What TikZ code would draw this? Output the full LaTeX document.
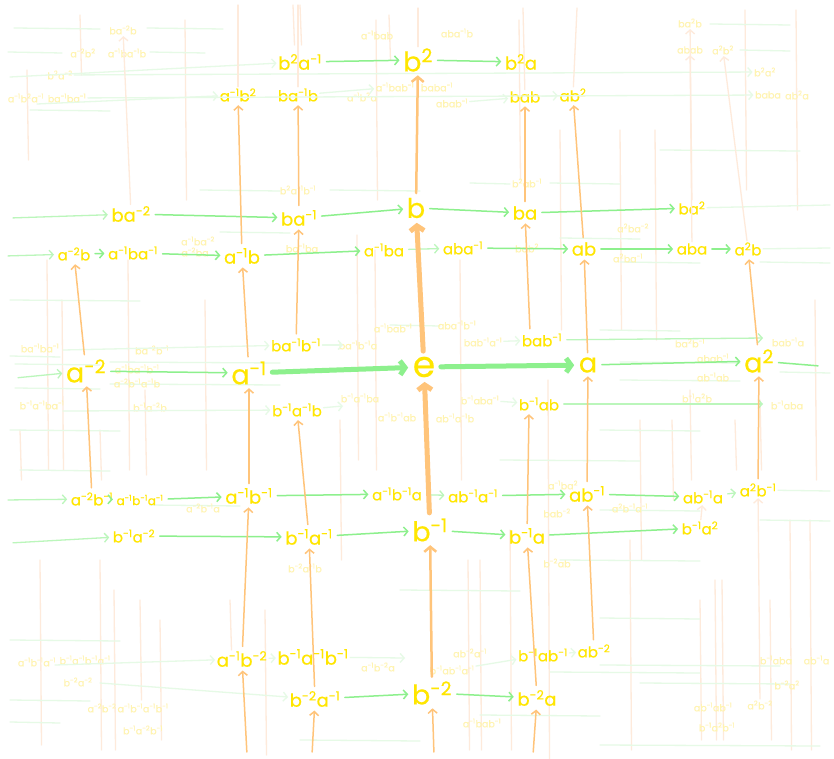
\documentclass[tikz,border=0pt]{standalone}
\usepackage{fontspec}
\setmainfont{Poppins}[FakeBold=0.5]
\usetikzlibrary{arrows.meta}
\definecolor{ylw}{HTML}{FFE600}
\definecolor{ylwf}{HTML}{FFF4B0}
\definecolor{grn}{HTML}{8DF08D}
\definecolor{grnf}{HTML}{E6FAE6}
\definecolor{org}{HTML}{FFC47A}
\definecolor{orgf}{HTML}{FEEADB}
\newcommand\ex[1]{\textsuperscript{#1}}
\begin{document}
\begin{tikzpicture}[x=1pt,y=-1pt,
  every node/.style={inner sep=1.5pt},
  huge/.style={text=ylw, font=\fontsize{36}{36}\selectfont},
  big/.style={text=ylw, font=\fontsize{27}{27}\selectfont},
  mid/.style={text=ylw, font=\fontsize{18}{18}\selectfont},
  sml/.style={text=ylw, font=\fontsize{15}{15}\selectfont},
  tiny/.style={text=ylw, font=\fontsize{12}{12}\selectfont},
  fnt/.style={text=ylwf, font=\fontsize{9.5}{9.5}\selectfont},
  tipA/.style={-{Straight Barb[length=4pt,width=9pt]}},
  gA/.style={draw=grn, line width=1.5pt, line cap=round, tipA, shorten >=2pt, shorten <=3pt},
  gL/.style={draw=grn!60, line width=1.3pt, line cap=round, tipA, shorten >=2pt, shorten <=3pt},
  gT/.style={draw=grn, line width=5pt, line cap=round, -{Straight Barb[length=5pt,width=14pt]}, shorten >=3pt, shorten <=4pt},
  oA/.style={draw=org, line width=1.5pt, line cap=round, tipA, shorten >=2pt, shorten <=3pt},
  oM/.style={draw=org, line width=2.5pt, line cap=round, -{Straight Barb[length=5pt,width=12pt]}, shorten >=2pt, shorten <=3pt},
  oT/.style={draw=org, line width=5pt, line cap=round, -{Straight Barb[length=5pt,width=14pt]}, shorten >=3pt, shorten <=4pt},
  gF/.style={draw=grnf, line width=1.3pt, line cap=round},
  oF/.style={draw=orgf, line width=1.3pt, line cap=round},
  gFA/.style={gF, tipA},
  oFA/.style={oF, tipA},
]
\fill[white] (0,0) rectangle (834,759);
\useasboundingbox (0,0) rectangle (834,759);

% ---------- faint background lines ----------
\foreach \x/\ya/\yb in {27/70/160, 80/15/75, 47/260/470, 62/300/470, 128/260/470, 145/390/475,
  300/5/45, 293/5/45, 357/235/460, 375/250/470, 389/15/60, 376/20/200, 460/260/480, 468/560/750,
  519/20/180, 548/380/760, 620/130/330, 655/130/340, 700/600/740, 715/580/740, 722/580/740,
  745/10/190, 770/600/740, 790/520/750, 810/520/750, 796/10/210, 40/560/745, 100/560/750,
  114/590/750, 140/600/700, 160/620/740, 265/610/755, 480/560/750, 510/530/750, 630/540/750,
  185/20/200, 205/300/470, 760/400/470, 690/390/480, 100/430/480, 20/430/480, 340/420/560,
  560/130/330, 640/420/560, 672/420/500, 735/420/470, 815/300/480, 230/600/650}
  \draw[oF] (\x,\ya) -- (\x+1.5,\yb);
\foreach \y/\xa/\xb in {28/14/100, 28/147/223, 52/8/62, 52/150/205, 24/710/790, 50/740/790,
  110/30/110, 150/660/800, 190/200/280, 190/330/420, 183/470/510, 183/550/620, 232/220/290,
  238/560/640, 262/620/700, 262/760/830, 300/10/140, 325/390/440, 330/600/680, 356/10/60,
  364/15/100, 388/15/100, 362/110/280, 384/110/280, 362/620/740, 380/620/740, 372/780/830,
  430/600/700, 430/10/120, 460/500/640, 470/20/110, 505/150/240, 510/600/700, 520/760/830,
  560/560/700, 590/400/520, 618/600/700, 640/10/120, 672/550/700, 700/10/90, 715/480/600,
  722/10/60, 740/300/420, 745/600/820, 683/640/790, 665/600/780}
  \draw[gF] (\xa,\y) -- (\xb,\y+1);

% ---------- faint labels ----------
\node[fnt] (f1) at (123,30) {ba\ex{-2}b};
\node[fnt] (f2) at (83,53) {a\ex{-2}b\ex{2}};
\node[fnt] (f3) at (127,53) {a\ex{-1}ba\ex{-1}b};
\node[fnt] (f4) at (60,75) {b\ex{2}a\ex{-2}};
\node[fnt] (f5) at (26,98) {a\ex{-1}b\ex{2}a\ex{-1}};
\node[fnt] (f6) at (67,98) {ba\ex{-1}ba\ex{-1}};
\node[fnt] (f7) at (377,35) {a\ex{-1}bab};
\node[fnt] (f8) at (457,33) {aba\ex{-1}b};
\node[fnt] (f9) at (362,97) {a\ex{-1}b\ex{2}a};
\node[fnt] (f10) at (395,87) {a\ex{-1}bab\ex{-1}};
\node[fnt] (f11) at (437,87) {baba\ex{-1}};
\node[fnt] (f12) at (452,103) {abab\ex{-1}};
\node[fnt] (f13) at (690,23) {ba\ex{2}b};
\node[fnt] (f14) at (690,50) {abab};
\node[fnt] (f15) at (723,50) {a\ex{2}b\ex{2}};
\node[fnt] (f16) at (765,72) {b\ex{2}a\ex{2}};
\node[fnt] (f17) at (768,95) {baba};
\node[fnt] (f18) at (797,95) {ab\ex{2}a};
\node[fnt] (f19) at (298,190) {b\ex{2}a\ex{-1}b\ex{-1}};
\node[fnt] (f20) at (527,183) {b\ex{2}ab\ex{-1}};
\node[fnt] (f21) at (198,241) {a\ex{-1}ba\ex{-2}};
\node[fnt] (f22) at (195,252) {a\ex{-2}ba};
\node[fnt] (f23) at (302,248) {ba\ex{-1}ba};
\node[fnt] (f24) at (527,248) {bab\ex{2}};
\node[fnt] (f25) at (633,228) {a\ex{2}ba\ex{-2}};
\node[fnt] (f26) at (628,258) {a\ex{2}ba\ex{-1}};
\node[fnt] (f27) at (40,348) {ba\ex{-1}ba\ex{-1}};
\node[fnt] (f28) at (152,350) {ba\ex{-2}b\ex{-1}};
\node[fnt] (f29) at (137,369) {a\ex{-1}ba\ex{-1}b\ex{-1}};
\node[fnt] (f30) at (137,383) {a\ex{-2}b\ex{-1}a\ex{-1}b};
\node[fnt] (f31) at (358,345) {ba\ex{-1}b\ex{-1}a};
\node[fnt] (f32) at (393,328) {a\ex{-1}bab\ex{-1}};
\node[fnt] (f33) at (42,405) {b\ex{-1}a\ex{-1}ba\ex{-1}};
\node[fnt] (f34) at (150,407) {b\ex{-1}a\ex{-2}b};
\node[fnt] (f35) at (360,398) {b\ex{-1}a\ex{-1}ba};
\node[fnt] (f36) at (397,417) {a\ex{-1}b\ex{-1}ab};
\node[fnt] (f37) at (457,325) {aba\ex{-1}b\ex{-1}};
\node[fnt] (f38) at (483,342) {bab\ex{-1}a\ex{-1}};
\node[fnt] (f39) at (690,343) {ba\ex{2}b\ex{-1}};
\node[fnt] (f40) at (713,358) {abab\ex{-1}};
\node[fnt] (f41) at (713,377) {ab\ex{-1}ab};
\node[fnt] (f42) at (788,342) {bab\ex{-1}a};
\node[fnt] (f43) at (480,400) {b\ex{-1}aba\ex{-1}};
\node[fnt] (f44) at (455,418) {ab\ex{-1}a\ex{-1}b};
\node[fnt] (f45) at (697,398) {b\ex{-1}a\ex{2}b};
\node[fnt] (f46) at (787,405) {b\ex{-1}aba};
\node[fnt] (f47) at (203,508) {a\ex{-2}b\ex{-1}a};
\node[fnt] (f48) at (563,485) {a\ex{-1}ba\ex{2}};
\node[fnt] (f49) at (557,513) {bab\ex{-2}};
\node[fnt] (f50) at (630,508) {a\ex{2}b\ex{-1}a\ex{-1}};
\node[fnt] (f51) at (557,563) {b\ex{-2}ab};
\node[fnt] (f52) at (305,568) {b\ex{-2}a\ex{-1}b};
\node[fnt] (f53) at (37,662) {a\ex{-1}b\ex{-1}a\ex{-1}};
\node[fnt] (f54) at (85,660) {b\ex{-1}a\ex{-1}b\ex{-1}a\ex{-1}};
\node[fnt] (f55) at (78,682) {b\ex{-2}a\ex{-2}};
\node[fnt] (f56) at (102,708) {a\ex{-2}b\ex{-2}};
\node[fnt] (f57) at (143,708) {a\ex{-1}b\ex{-1}a\ex{-1}b\ex{-1}};
\node[fnt] (f58) at (143,730) {b\ex{-1}a\ex{-2}b\ex{-1}};
\node[fnt] (f59) at (378,667) {a\ex{-1}b\ex{-2}a};
\node[fnt] (f60) at (470,653) {ab\ex{-2}a\ex{-1}};
\node[fnt] (f61) at (452,670) {b\ex{-1}ab\ex{-1}a\ex{-1}};
\node[fnt] (f62) at (482,723) {a\ex{-1}bab\ex{-1}};
\node[fnt] (f63) at (776,660) {b\ex{-1}aba};
\node[fnt, anchor=east] (f64) at (831,660) {ab\ex{-1}a};
\node[fnt] (f65) at (787,685) {b\ex{-2}a\ex{2}};
\node[fnt] (f66) at (713,707) {ab\ex{-1}ab\ex{-1}};
\node[fnt] (f67) at (760,705) {a\ex{2}b\ex{-2}};
\node[fnt] (f68) at (717,727) {b\ex{-1}a\ex{2}b\ex{-1}};

% ---------- main labels ----------
\node[huge] (e) at (424,367) {e};
\node[big] (a) at (588,365) {a};
\node[big] (a2) at (759,361) {a\ex{2}};
\node[big] (am1) at (249,373) {a\ex{-1}};
\node[big] (am2) at (86,371) {a\ex{-2}};
\node[big] (b) at (416,208) {b};
\node[big] (b2) at (418,60) {b\ex{2}};
\node[big] (bm1) at (430,530) {b\ex{-1}};
\node[big] (bm2) at (432,693) {b\ex{-2}};

\node[mid] (b2am1) at (300,62) {b\ex{2}a\ex{-1}};
\node[mid] (b2a) at (521,62) {b\ex{2}a};
\node[sml] (am1b2) at (238,95) {a\ex{-1}b\ex{2}};
\node[sml] (bam1b) at (298,95) {ba\ex{-1}b};
\node[sml] (bab) at (525,97) {bab};
\node[sml] (ab2) at (573,95) {ab\ex{2}};
\node[mid] (bam2) at (131,214) {ba\ex{-2}};
\node[mid] (bam1) at (299,218) {ba\ex{-1}};
\node[mid] (ba) at (525,213) {ba};
\node[sml] (ba2) at (692,208) {ba\ex{2}};
\node[sml] (am2b) at (74,254) {a\ex{-2}b};
\node[sml] (am1bam1) at (133,253) {a\ex{-1}ba\ex{-1}};
\node[mid] (am1b) at (242,256) {a\ex{-1}b};
\node[sml] (am1ba) at (384,250) {a\ex{-1}ba};
\node[sml] (abam1) at (463,248) {aba\ex{-1}};
\node[mid] (ab) at (584,249) {ab};
\node[sml] (aba) at (692,249) {aba};
\node[sml] (a2b) at (748,249) {a\ex{2}b};
\node[sml] (bam1bm1) at (296,345) {ba\ex{-1}b\ex{-1}};
\node[sml] (babm1) at (542,340) {bab\ex{-1}};
\node[sml] (bm1am1b) at (297,410) {b\ex{-1}a\ex{-1}b};
\node[sml] (bm1ab) at (539,404) {b\ex{-1}ab};
\node[sml] (am2bm1) at (92,499) {a\ex{-2}b\ex{-1}};
\node[tiny] (am1bm1am1) at (140,500) {a\ex{-1}b\ex{-1}a\ex{-1}};
\node[mid] (am1bm1) at (249,496) {a\ex{-1}b\ex{-1}};
\node[sml] (am1bm1a) at (397,494) {a\ex{-1}b\ex{-1}a};
\node[sml] (abm1am1) at (473,496) {ab\ex{-1}a\ex{-1}};
\node[mid] (abm1) at (587,494) {ab\ex{-1}};
\node[sml] (abm1a) at (703,497) {ab\ex{-1}a};
\node[sml] (a2bm1) at (758,490) {a\ex{2}b\ex{-1}};
\node[sml] (bm1am2) at (134,536) {b\ex{-1}a\ex{-2}};
\node[mid] (bm1am1) at (309,537) {b\ex{-1}a\ex{-1}};
\node[mid] (bm1a) at (527,536) {b\ex{-1}a};
\node[sml] (bm1a2) at (700,528) {b\ex{-1}a\ex{2}};
\node[mid] (am1bm2) at (242,659) {a\ex{-1}b\ex{-2}};
\node[mid] (bm1am1bm1) at (313,657) {b\ex{-1}a\ex{-1}b\ex{-1}};
\node[sml] (bm1abm1) at (543,655) {b\ex{-1}ab\ex{-1}};
\node[sml] (abm2) at (594,651) {ab\ex{-2}};
\node[mid] (bm2am1) at (315,699) {b\ex{-2}a\ex{-1}};
\node[mid] (bm2a) at (537,698) {b\ex{-2}a};

% ---------- free ends ----------
\coordinate (L1) at (10,218);
\coordinate (L2) at (5,256);
\coordinate (L3) at (15,378);
\coordinate (L4) at (5,500);
\coordinate (L5) at (10,543);
\coordinate (L6) at (55,665);
\coordinate (L7) at (100,683);
\coordinate (L8) at (10,77);
\coordinate (L9) at (37,104);
\coordinate (L10) at (63,350);
\coordinate (L11) at (63,411);
\coordinate (R1) at (830,205);
\coordinate (R2) at (830,248);
\coordinate (R3) at (820,366);
\coordinate (R4) at (830,491);
\coordinate (R5) at (765,338);
\coordinate (R6) at (765,404);
\coordinate (R7) at (343,345);
\coordinate (R8) at (343,406);
\coordinate (R9) at (405,658);
\coordinate (T1) at (418,8);
\coordinate (T2) at (238,5);
\coordinate (T3) at (298,5);
\coordinate (T4) at (523,8);
\coordinate (T5) at (577,8);
\coordinate (B1) at (434,755);
\coordinate (B2) at (247,755);
\coordinate (B3) at (312,755);
\coordinate (B4) at (533,755);

% ---------- faint connectors ----------
\draw[gFA] (L8) -- (b2am1);
\draw[gFA] (L9) -- (am1b2);
\draw[gFA] (bam1b) -- (f10);
\draw[gFA] (f12) -- (bab);
\draw[gFA] (bab) -- (ab2);
\draw[gFA] (L10) -- (bam1bm1);
\draw[gFA] (bam1bm1) -- (R7);
\draw[gFA] (f38) -- (babm1);
\draw[gFA] (L11) -- (bm1am1b);
\draw[gFA] (bm1am1b) -- (R8);
\draw[gFA] (f43) -- (bm1ab);
\draw[gFA] (L6) -- (am1bm2);
\draw[gFA] (am1bm2) -- (bm1am1bm1);
\draw[gFA] (bm1am1bm1) -- (R9);
\draw[gFA] (f61) -- (bm1abm1);
\draw[gFA] (bm1abm1) -- (abm2);
\draw[gFA] (L7) -- (bm2am1);
\draw[gF] (ba2) -- (R1);
\draw[gF] (a2b) -- (R2);
\draw[gF] (a2bm1) -- (R4);
\draw[gFA] (f4) -- (f16);
\draw[gFA] (f6) -- (f17);
\draw[oF] (b2) -- (T1);
\draw[oF] (am1b2) -- (T2);
\draw[oF] (bam1b) -- (T3);
\draw[oF] (bab) -- (T4);
\draw[oF] (ab2) -- (T5);
\draw[oFA] (ba2) -- (f13);
\draw[oFA] (bam2) -- (f1);
\draw[oFA] (aba) -- (f14);
\draw[oFA] (a2b) -- (f15);
\draw[oFA] (bm1a2) -- (abm1a);
\draw[oFA] (f67) -- (a2bm1);

% ---------- green connectors ----------
\draw[gA] (b2am1) -- (b2);
\draw[gA] (b2) -- (b2a);
\draw[gL] (L1) -- (bam2);
\draw[gA] (bam2) -- (bam1);
\draw[gA] (bam1) -- (b);
\draw[gA] (b) -- (ba);
\draw[gA] (ba) -- (ba2);
\draw[gL] (L2) -- (am2b);
\draw[gA] (am2b) -- (am1bam1);
\draw[gA] (am1bam1) -- (am1b);
\draw[gA] (am1b) -- (am1ba);
\draw[gL] (am1ba) -- (abam1);
\draw[gA] (abam1) -- (ab);
\draw[gA] (ab) -- (aba);
\draw[gA] (aba) -- (a2b);
\draw[gL] (L3) -- (am2);
\draw[gA] (am2) -- (am1);
\draw[gT] (am1) -- (e);
\draw[gT] (e) -- (a);
\draw[gA] (a) -- (a2);
\draw[gA, -] (a2) -- (R3);
\draw[gL] (babm1) -- (R5);
\draw[gL] (bm1ab) -- (R6);
\draw[gL] (L4) -- (am2bm1);
\draw[gA] (am2bm1) -- (am1bm1am1);
\draw[gA] (am1bm1am1) -- (am1bm1);
\draw[gA] (am1bm1) -- (am1bm1a);
\draw[gL] (am1bm1a) -- (abm1am1);
\draw[gA] (abm1am1) -- (abm1);
\draw[gA] (abm1) -- (abm1a);
\draw[gL] (abm1a) -- (a2bm1);
\draw[gL] (L5) -- (bm1am2);
\draw[gA] (bm1am2) -- (bm1am1);
\draw[gA] (bm1am1) -- (bm1);
\draw[gA] (bm1) -- (bm1a);
\draw[gA] (bm1a) -- (bm1a2);
\draw[gA] (bm2am1) -- (bm2);
\draw[gA] (bm2) -- (bm2a);

% ---------- orange connectors ----------
\draw[oM] (b) -- (b2);
\draw[oT] (e) -- (b);
\draw[oT] (bm1) -- (e);
\draw[oM] (bm2) -- (bm1);
\draw[oA] (B1) -- (bm2);
\draw[oA] (B2) -- (am1bm2);
\draw[oA] (B3) -- (bm2am1);
\draw[oA] (B4) -- (bm2a);
\draw[oA] (am2) -- (am2b);
\draw[oA] (am2bm1) -- (am2);
\draw[oA] (am1) -- (am1b);
\draw[oA] (am1bm1) -- (am1);
\draw[oA] (am1b) -- (am1b2);
\draw[oA] (bam1) -- (bam1b);
\draw[oA] (bam1bm1) -- (bam1);
\draw[oA] (bm1am1) -- (bm1am1b);
\draw[oA] (bm2am1) -- (bm1am1);
\draw[oA] (am1bm2) -- (am1bm1);
\draw[oA] (a) -- (ab);
\draw[oA] (abm1) -- (a);
\draw[oA] (ab) -- (ab2);
\draw[oA] (ba) -- (bab);
\draw[oA] ([xshift=-12pt]babm1.north) -- (ba);
\draw[oA] (bm1a) -- ([xshift=-10pt]bm1ab.south);
\draw[oA] (bm2a) -- (bm1a);
\draw[oA] (abm2) -- (abm1);
\draw[oA] (a2) -- (a2b);
\draw[oA] (a2bm1) -- (a2);
\end{tikzpicture}
\end{document}
